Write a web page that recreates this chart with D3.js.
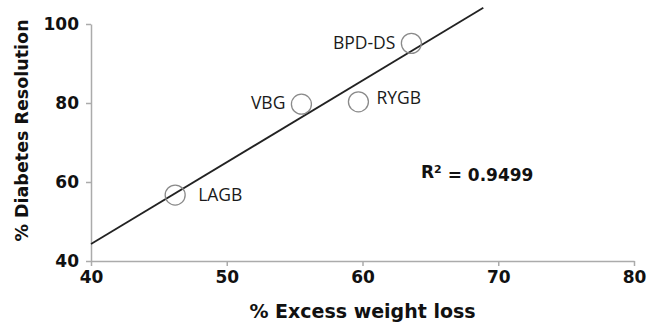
<!DOCTYPE html>
<html>
<head>
<meta charset="utf-8">
<script src="https://cdn.jsdelivr.net/npm/d3@7"></script>
<style>
  body { margin: 0; background: #fff; }
  svg { font-family: "DejaVu Sans", sans-serif; }
</style>
</head>
<body>
<div id="chart"></div>
<script>
// Data
const procedures = ["LAGB", "VBG", "RYGB", "BPD-DS"];
const excessWeightLoss = [46.2, 55.5, 59.7, 63.6];
const diabetesResolution = [56.7, 79.7, 80.3, 95.1];
const trendX = [40, 68.9];
const trendY = [44.3, 104.1];
const xTicks = [40, 50, 60, 70, 80];
const yTicks = [40, 60, 80, 100];
const rSquared = "0.9499";

const width = 649, height = 324;
const margin = { top: 24, right: 15, bottom: 63, left: 91 };

const svg = d3.select("#chart").append("svg")
    .attr("width", width)
    .attr("height", height);

const x = d3.scaleLinear().domain([40, 80]).range([margin.left, width - margin.right]);
const y = d3.scaleLinear().domain([40, 100]).range([height - margin.bottom, margin.top]);

// x axis
const xAxis = svg.append("g")
    .attr("transform", `translate(0,${y(40)})`)
    .call(d3.axisBottom(x).tickValues(xTicks).tickSize(5).tickPadding(5).tickSizeOuter(0));

// y axis
const yAxis = svg.append("g")
    .attr("transform", `translate(${x(40)},0)`)
    .call(d3.axisLeft(y).tickValues(yTicks).tickSize(5).tickPadding(7).tickSizeOuter(0));

[xAxis, yAxis].forEach(ax => {
    ax.select(".domain").attr("stroke", "#ababab").attr("stroke-width", 1.5);
    ax.selectAll(".tick line").attr("stroke", "#ababab").attr("stroke-width", 1.5);
    ax.selectAll(".tick text")
        .attr("fill", "#111")
        .style("font-family", "'DejaVu Sans', sans-serif")
        .style("font-size", "17px")
        .style("font-weight", "bold");
});
yAxis.selectAll(".tick text").attr("dy", "0.35em");

// axis titles
svg.append("text")
    .attr("x", (x(40) + x(80)) / 2)
    .attr("y", 318)
    .attr("text-anchor", "middle")
    .attr("fill", "#111")
    .style("font-size", "19px")
    .style("font-weight", "bold")
    .text("% Excess weight loss");

svg.append("text")
    .attr("transform", `translate(22,${(y(40) + y(100)) / 2 - 12}) rotate(-90)`)
    .attr("text-anchor", "middle")
    .attr("dy", "0.35em")
    .attr("fill", "#111")
    .style("font-size", "17.5px")
    .style("font-weight", "bold")
    .text("% Diabetes Resolution");

// trend line
const line = d3.line().x(d => x(d[0])).y(d => y(d[1]));
svg.append("path")
    .datum(d3.zip(trendX, trendY))
    .attr("d", line)
    .attr("fill", "none")
    .attr("stroke", "#222")
    .attr("stroke-width", 1.8);

// points
const points = procedures.map((p, i) => ({ name: p, ewl: excessWeightLoss[i], dr: diabetesResolution[i] }));

svg.selectAll("circle.pt")
    .data(points)
    .enter().append("circle")
    .attr("class", "pt")
    .attr("cx", d => x(d.ewl))
    .attr("cy", d => y(d.dr))
    .attr("r", 10)
    .attr("fill", "none")
    .attr("stroke", "#8a8a8a")
    .attr("stroke-width", 1.3);

// labels: left of point for VBG and BPD-DS, right otherwise
const leftSide = { "VBG": true, "BPD-DS": true };
const labelDy = { "LAGB": 0, "VBG": -1, "RYGB": -4, "BPD-DS": 0 };
svg.selectAll("text.lbl")
    .data(points)
    .enter().append("text")
    .attr("class", "lbl")
    .attr("x", d => x(d.ewl) + (leftSide[d.name] ? -16 : (d.name === "LAGB" ? 23 : 18)))
    .attr("y", d => y(d.dr) + labelDy[d.name])
    .attr("dy", "0.35em")
    .attr("text-anchor", d => leftSide[d.name] ? "end" : "start")
    .attr("fill", "#1a1a1a")
    .style("font-family", "'Open Sans', sans-serif")
    .style("font-size", "17.5px")
    .text(d => d.name);

// R squared
const r2 = svg.append("text")
    .attr("x", 421)
    .attr("y", 172)
    .attr("dy", "0.35em")
    .attr("fill", "#111")
    .style("font-size", "17px")
    .style("font-weight", "bold");
r2.append("tspan").text("R");
r2.append("tspan").attr("dy", "-0.45em").style("font-size", "11px").text("2");
r2.append("tspan").attr("dy", "0.45em").text(" = " + rSquared);
</script>
</body>
</html>
